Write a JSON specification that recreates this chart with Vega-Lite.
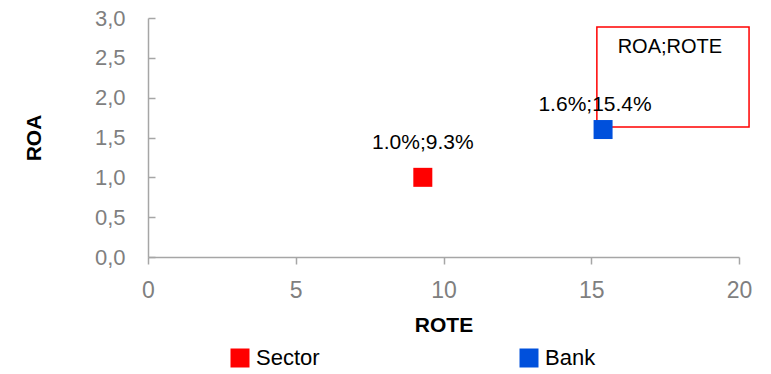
{
  "$schema": "https://vega.github.io/schema/vega-lite/v6.json",
  "autosize": "none",
  "width": 591,
  "height": 239,
  "padding": {"left": 148, "top": 18, "right": 32, "bottom": 117},
  "background": "white",
  "config": {
    "view": {"stroke": null},
    "font": "Liberation Sans",
    "axis": {"labelOverlap": false},
    "axisY": {"labelOverlap": false, "tickCount": 7},
    "locale": {"number": {"decimal": ",", "thousands": ".", "grouping": [3], "currency": ["", "€"]}}
  },
  "datasets": {
    "points": [
      {"series": "Sector", "ROTE": 9.3, "ROA": 1.0, "label": "1.0%;9.3%"},
      {"series": "Bank", "ROTE": 15.4, "ROA": 1.6, "label": "1.6%;15.4%"}
    ],
    "box": [
      {"x1": 15.19, "x2": 20.34, "y1": 2.887, "y2": 1.632, "xt": 17.66, "yt": 2.636, "title": "ROA;ROTE"}
    ]
  },
  "layer": [
    {
      "data": {"name": "box"},
      "mark": {"type": "rect", "fill": "white", "stroke": "#ff0000", "strokeWidth": 1.5, "clip": false},
      "encoding": {
        "x": {
          "field": "x1", "type": "quantitative",
          "scale": {"domain": [0, 20]},
          "axis": {
            "values": [0, 5, 10, 15, 20], "grid": false, "title": "ROTE",
            "titleFontSize": 21, "titleFontWeight": "bold", "titleColor": "#000000", "titlePadding": 12,
            "labelFontSize": 23, "labelColor": "#7f7f7f", "labelPadding": 15, "labelFlush": false, "labelOverlap": false,
            "domainColor": "#a6a6a6", "domainWidth": 1.5, "tickColor": "#a6a6a6", "tickWidth": 1.5, "tickSize": 7
          }
        },
        "x2": {"field": "x2"},
        "y": {
          "field": "y1", "type": "quantitative",
          "scale": {"domain": [0, 3]},
          "axis": {
            "values": [0, 0.5, 1, 1.5, 2, 2.5, 3], "format": ".1f", "grid": false, "title": "ROA",
            "titleFontSize": 21, "titleFontWeight": "bold", "titleColor": "#000000", "titlePadding": 50,
            "labelFontSize": 22, "labelColor": "#7f7f7f", "labelPadding": 30, "labelFlush": false, "labelOverlap": false,
            "domainColor": "#a6a6a6", "domainWidth": 1.5, "tickColor": "#a6a6a6", "tickWidth": 1.5, "tickSize": -7
          }
        },
        "y2": {"field": "y2"}
      }
    },
    {
      "data": {"name": "box"},
      "mark": {"type": "text", "fontSize": 20, "color": "#000000", "baseline": "middle", "align": "center", "clip": false},
      "encoding": {
        "x": {"field": "xt", "type": "quantitative"},
        "y": {"field": "yt", "type": "quantitative"},
        "text": {"field": "title"}
      }
    },
    {
      "data": {"name": "points"},
      "mark": {"type": "point", "shape": "square", "filled": true, "opacity": 1, "size": 361},
      "encoding": {
        "x": {"field": "ROTE", "type": "quantitative"},
        "y": {"field": "ROA", "type": "quantitative"},
        "color": {
          "field": "series", "type": "nominal",
          "scale": {"domain": ["Sector", "Bank"], "range": ["#ff0000", "#0050dc"]},
          "legend": {
            "title": null, "orient": "none", "legendX": 81, "legendY": 329,
            "direction": "horizontal", "columns": 2, "columnPadding": 198,
            "symbolType": "square", "symbolSize": 361, "symbolOpacity": 1,
            "labelFontSize": 22, "labelColor": "#000000", "labelOffset": 5
          }
        }
      }
    },
    {
      "data": {"name": "points"},
      "transform": [{"filter": "datum.series == 'Sector'"}],
      "mark": {"type": "text", "fontSize": 21, "color": "#000000", "baseline": "middle", "align": "center", "dy": -34},
      "encoding": {
        "x": {"field": "ROTE", "type": "quantitative"},
        "y": {"field": "ROA", "type": "quantitative"},
        "text": {"field": "label"}
      }
    },
    {
      "data": {"name": "points"},
      "transform": [{"filter": "datum.series == 'Bank'"}],
      "mark": {"type": "text", "fontSize": 21, "color": "#000000", "baseline": "middle", "align": "center", "dy": -25, "dx": -8},
      "encoding": {
        "x": {"field": "ROTE", "type": "quantitative"},
        "y": {"field": "ROA", "type": "quantitative"},
        "text": {"field": "label"}
      }
    }
  ]
}
